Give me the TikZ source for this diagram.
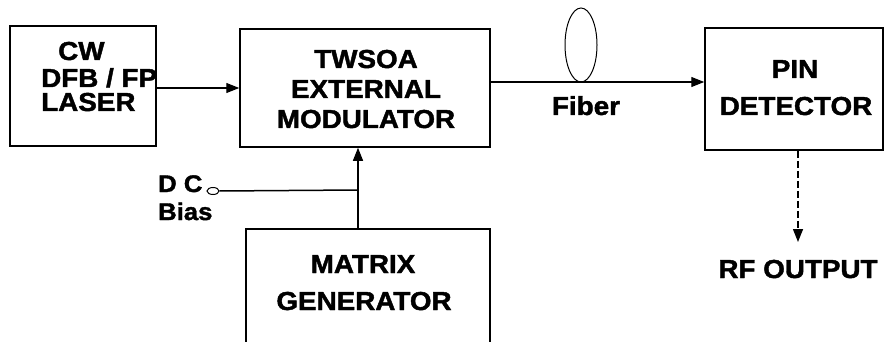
\documentclass[tikz,border=0pt]{standalone}
\usepackage{fontspec}
\setmainfont[FakeStretch=1.07, BoldFeatures={FakeBold=1.6}]{Liberation Sans}
\usetikzlibrary{arrows.meta,shapes.geometric}
\tikzset{
  x=1pt, y=-1pt,
  boxnode/.style={draw, line width=1.5pt, inner sep=0pt, anchor=center},
  lbl/.style={inner sep=0pt, font=\bfseries\fontsize{26}{30}\selectfont},
  smalllbl/.style={inner sep=0pt, font=\bfseries\fontsize{24}{28}\selectfont},
  arr/.style={line width=1.4pt, -{Triangle[length=13pt,width=10pt]}},
  wire/.style={line width=1.5pt},
}
\begin{document}
\begin{tikzpicture}
\useasboundingbox (0,0) rectangle (886,342);
% boxes
\node[boxnode, minimum width=146pt, minimum height=120pt] (laser) at (83,86) {};
\node[boxnode, minimum width=250pt, minimum height=118pt] (mod) at (365,88) {};
\node[boxnode, minimum width=178pt, minimum height=122pt] (pin) at (794,89) {};
\node[inner sep=0pt, minimum width=244pt, minimum height=116pt] (matrix) at (368,287) {};
\draw[wire] (matrix.south west) |- (matrix.north east) -- (matrix.south east);
% texts
\node[lbl, anchor=base west] (t1) at (58,60) {CW};
\node[lbl, anchor=base west] (t2) at (41,87) {DFB / FP};
\node[lbl, anchor=base west] (t3) at (41,111) {LASER};
\node[lbl, anchor=base] (m1) at (366,68) {TWSOA};
\node[lbl, anchor=base] (m2) at (366,98) {EXTERNAL};
\node[lbl, anchor=base] (m3) at (366,128) {MODULATOR};
\node[lbl, anchor=base] (p1) at (795,78) {PIN};
\node[lbl, anchor=base] (p2) at (796,115) {DETECTOR};
\node[lbl, anchor=base] (g1) at (363,273) {MATRIX};
\node[lbl, anchor=base] (g2) at (364,310) {GENERATOR};
\node[lbl, anchor=base] (fiber) at (586,115) {Fiber};
\node[lbl, anchor=base] (rf) at (798,278) {RF OUTPUT};
\node[smalllbl, anchor=base west] (dc) at (158,192) {D C};
\node[smalllbl, anchor=base west] (bias) at (158,220) {Bias};
% fiber loop
\node[ellipse, draw, line width=1pt, inner sep=0pt, minimum width=32pt, minimum height=74pt] (loop) at (581,45) {};
% DC terminal
\node[ellipse, draw, line width=1pt, inner sep=0pt, minimum width=12pt, minimum height=7pt] (term) at (213,191) {};
\coordinate (j) at (358,190);
\coordinate (rfend) at (798,242);
% connectors
\draw[arr] (laser.east |- 0,88) -- (mod.west |- 0,88);
\draw[arr] (mod.east |- 0,82) -- (pin.west |- 0,82);
\draw[arr] (matrix.north -| j) -- (mod.south -| j);
\draw[wire] (term.east) -- (j);
\draw[arr, dash pattern=on 7pt off 3pt] (pin.south -| rfend) -- (rfend);
\end{tikzpicture}
\end{document}
